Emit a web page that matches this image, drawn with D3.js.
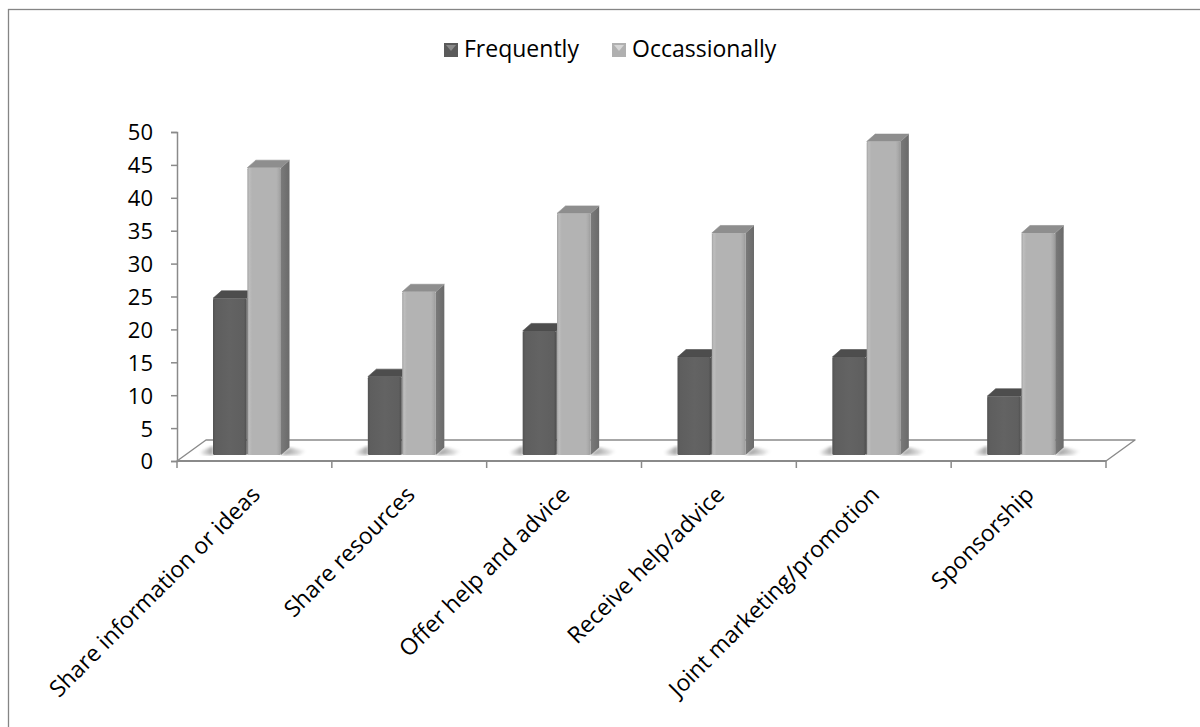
<!DOCTYPE html>
<html>
<head>
<meta charset="utf-8">
<script src="https://cdn.jsdelivr.net/npm/d3@7"></script>
<style>
  html, body { margin: 0; padding: 0; background: #fff; }
  svg { display: block; }
  text { font-family: "Open Sans", "Noto Sans", sans-serif; fill: #000; }
</style>
</head>
<body>
<svg id="chart" width="1200" height="727"></svg>
<script>
// Collaboration activities, by how often they happen
const categories = [
  "Share information or ideas",
  "Share resources",
  "Offer help and advice",
  "Receive help/advice",
  "Joint marketing/promotion",
  "Sponsorship"
];
const seriesNames = ["Frequently", "Occassionally"];
const frequently = [24, 12, 19, 15, 15, 9];
const occasionally = [44, 25, 37, 34, 48, 34];
const yTicks = [0, 5, 10, 15, 20, 25, 30, 35, 40, 45, 50];

const svg = d3.select("#chart");
const defs = svg.append("defs");

// Face gradients for the 3D columns
function hGrad(id, stops) {
  const g = defs.append("linearGradient").attr("id", id)
    .attr("x1", "0%").attr("x2", "100%").attr("y1", "0%").attr("y2", "0%");
  stops.forEach(([o, c]) => g.append("stop").attr("offset", o).attr("stop-color", c));
}
hGrad("frontDark", [["0%", "#525252"], ["8%", "#5e5e5e"], ["50%", "#636363"], ["92%", "#5f5f5f"], ["100%", "#4e4e4e"]]);
hGrad("frontLight", [["0%", "#a3a3a3"], ["6%", "#bdbdbd"], ["14%", "#b3b3b3"], ["86%", "#b3b3b3"], ["94%", "#a8a8a8"], ["100%", "#9a9a9a"]]);
hGrad("sideLight", [["0%", "#7a7a7a"], ["100%", "#6a6a6a"]]);
hGrad("shadowL", [["0%", "#ffffff"], ["100%", "#9a9a9a"]]);
hGrad("shadowR", [["0%", "#8f8f8f"], ["100%", "#ffffff"]]);
defs.append("filter").attr("id", "soft")
  .append("feGaussianBlur").attr("stdDeviation", 1.6);

// Outer frame
svg.append("rect")
  .attr("x", 8.5).attr("y", 9.5).attr("width", 1230).attr("height", 760)
  .attr("fill", "none").attr("stroke", "#858585").attr("stroke-width", 1.3);

// Scales
const x = d3.scaleBand().domain(categories).range([177, 1106]).paddingInner(0).paddingOuter(0);
const xs = d3.scaleBand().domain(seriesNames).range([36, 104]).paddingInner(0.02);
const y = d3.scaleLinear().domain([0, 50]).range([461, 132]);
// columns stand a little back on the floor, so their own baseline is raised
const yBar = d3.scaleLinear().domain([0, 50]).range([455, 128.5]);
const depthX = 29, depthY = -21;      // floor depth
const colDX = 8.5, colDY = -7.5;      // column depth

const gridColor = "#8a8a8a";

// Floor
const fx0 = x.range()[0], fx1 = x.range()[1], fy = y(0);
svg.append("polygon")
  .attr("points", [[fx0, fy], [fx1, fy], [fx1 + depthX, fy + depthY], [fx0 + depthX, fy + depthY]].map(p => p.join(",")).join(" "))
  .attr("fill", "#fff").attr("stroke", gridColor).attr("stroke-width", 1.4).attr("stroke-linejoin", "round");
svg.append("line")
  .attr("x1", fx0).attr("x2", fx1).attr("y1", fy).attr("y2", fy)
  .attr("stroke", gridColor).attr("stroke-width", 2);

// Value axis
const yAxis = d3.axisLeft(y).tickValues(yTicks).tickSize(6).tickPadding(18);
const ya = svg.append("g").attr("transform", `translate(${fx0},0)`).call(yAxis);
ya.select(".domain").attr("stroke", gridColor).attr("stroke-width", 1.5);
ya.selectAll(".tick line").attr("stroke", gridColor).attr("stroke-width", 1.5);
ya.selectAll(".tick text")
  .style("font-family", "'Open Sans', sans-serif").style("font-size", "22px").attr("fill", "#000")
  .attr("dy", "0.36em");

// Category axis ticks
svg.append("g").selectAll("line")
  .data(d3.range(categories.length + 1))
  .join("line")
  .attr("x1", i => fx0 + i * x.bandwidth()).attr("x2", i => fx0 + i * x.bandwidth())
  .attr("y1", fy).attr("y2", fy + 7)
  .attr("stroke", gridColor).attr("stroke-width", 1.5);

// Column groups
const groups = svg.append("g").selectAll("g")
  .data(categories.map((c, i) => ({ c, f: frequently[i], o: occasionally[i] })))
  .join("g");

// soft shadows on the floor
groups.append("polygon")
  .attr("points", d => {
    const a = x(d.c) + xs("Frequently");
    const b = yBar(0);
    return [[a - 14, b - 3], [a, b - 9], [a, b], [a - 10, b]].map(p => p.join(",")).join(" ");
  })
  .attr("fill", "url(#shadowL)").attr("filter", "url(#soft)");
groups.append("polygon")
  .attr("points", d => {
    const a = x(d.c) + xs("Occassionally") + xs.bandwidth();
    const b = yBar(0);
    return [[a, b], [a + colDX, b + colDY], [a + 26, b - 4], [a + 18, b]].map(p => p.join(",")).join(" ");
  })
  .attr("fill", "url(#shadowR)").attr("filter", "url(#soft)");

function drawColumn(sel, key, valueOf, front, side, top) {
  const w = xs.bandwidth();
  const x0 = d => x(d.c) + xs(key);
  // side face
  sel.append("polygon")
    .attr("points", d => {
      const a = x0(d) + w, t = yBar(valueOf(d)), b = yBar(0);
      return [[a, t], [a + colDX, t + colDY], [a + colDX, b + colDY], [a, b]].map(p => p.join(",")).join(" ");
    })
    .attr("fill", side);
  // top face
  sel.append("polygon")
    .attr("points", d => {
      const a = x0(d), t = yBar(valueOf(d));
      return [[a, t], [a + w, t], [a + w + colDX, t + colDY], [a + colDX, t + colDY]].map(p => p.join(",")).join(" ");
    })
    .attr("fill", top).attr("stroke", top).attr("stroke-width", 0.6).attr("stroke-linejoin", "round");
  // front face
  sel.append("rect")
    .attr("x", d => x0(d)).attr("width", w)
    .attr("y", d => yBar(valueOf(d))).attr("height", d => yBar(0) - yBar(valueOf(d)))
    .attr("fill", front).attr("rx", 1.5);
}
drawColumn(groups, "Frequently", d => d.f, "url(#frontDark)", "#474747", "#4d4d4d");
drawColumn(groups, "Occassionally", d => d.o, "url(#frontLight)", "url(#sideLight)", "#8e8e8e");

// Category labels
svg.append("g").selectAll("text")
  .data(categories)
  .join("text")
  .attr("transform", c => `translate(${x(c) + x.bandwidth() / 2 + 7},${496}) rotate(-45)`)
  .attr("text-anchor", "end")
  .style("font-size", "23px")
  .text(c => c);

// Legend
const legendItems = [
  { name: "Frequently", x: 444, base: "#5a5a5a", hi: "#8a8a8a" },
  { name: "Occassionally", x: 612, base: "#b0b0b0", hi: "#d6d6d6" }
];
const lg = svg.append("g").selectAll("g").data(legendItems).join("g")
  .attr("transform", d => `translate(${d.x},43)`);
lg.append("rect").attr("width", 14).attr("height", 14).attr("fill", d => d.base);
lg.append("polygon").attr("points", "2,2 12,2 7,8").attr("fill", d => d.hi);
lg.append("text").attr("x", 20).attr("y", 14)
  .style("font-size", "23px").text(d => d.name);
</script>
</body>
</html>
